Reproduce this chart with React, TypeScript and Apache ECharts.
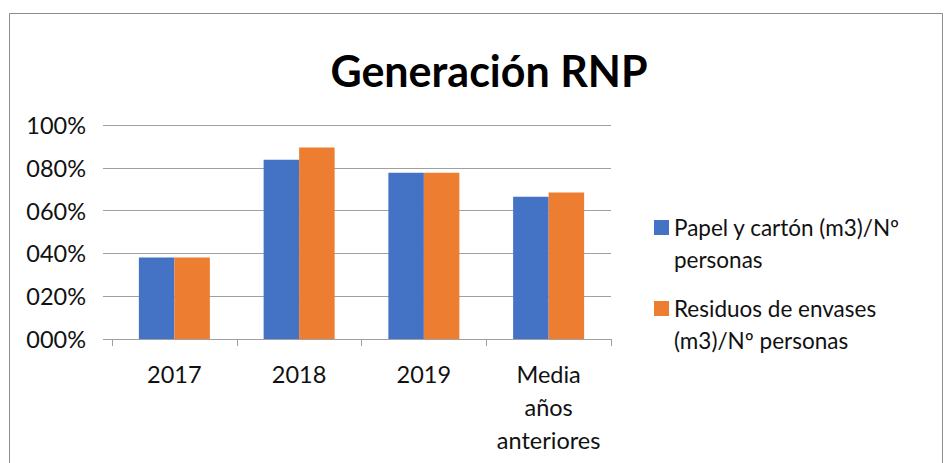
import React, { useEffect, useRef } from "react";
import * as echarts from "echarts";

const categories = ["2017", "2018", "2019", "Media\naños\nanteriores"];
const seriesNames = ["Papel y cartón (m3)/Nº personas", "Residuos de envases (m3)/Nº personas"];
const legendLabels = ["Papel y cartón (m3)/Nº\npersonas", "Residuos de envases\n(m3)/Nº personas"];
const papelValues = [38.1, 83.8, 77.7, 66.5];
const envasesValues = [38.1, 89.5, 77.7, 68.5];
const colors = ["#4472C4", "#ED7D31"];
const titleText = "Generación RNP";

const FONT = "Lato, 'Open Sans', sans-serif";

export default function App() {
  const ref = useRef<HTMLDivElement>(null);
  useEffect(() => {
    document.body.style.margin = "0";
    const chart = echarts.init(ref.current!, null, { renderer: "svg" });
    const labelMap: Record<string, string> = {};
    seriesNames.forEach((n, i) => (labelMap[n] = legendLabels[i]));
    chart.setOption({
      animation: false,
      backgroundColor: "#fff",
      color: colors,
      title: {
        text: titleText,
        left: 484,
        textAlign: "center",
        top: 44,
        textStyle: { fontFamily: FONT, fontWeight: "bold", fontSize: 43, color: "#000" },
      },
      graphic: [
        {
          type: "rect",
          shape: { x: 9.5, y: 13.5, width: 933, height: 470 },
          style: { fill: "none", stroke: "#8c8c8c", lineWidth: 1 },
          silent: true,
        },
      ],
      legend: seriesNames.map((n, i) => ({
        data: [n],
        orient: "vertical",
        left: 654,
        top: [179.5, 260.5][i],
        padding: 0,
        itemWidth: 15,
        itemHeight: 15,
        icon: "rect",
        itemGap: 6,
        formatter: (name: string) => " \n" + labelMap[name],
        textStyle: {
          fontFamily: FONT,
          fontSize: 22.5,
          color: "#111",
          lineHeight: 32,
        },
      })),
      grid: { left: 112, right: 333, top: 125, bottom: 124, containLabel: false },
      xAxis: {
        type: "category",
        data: categories,
        axisLine: { show: true, lineStyle: { color: "#a0a0a0", width: 1 } },
        axisTick: { show: true, length: 7, lineStyle: { color: "#a0a0a0" } },
        axisLabel: {
          fontFamily: FONT,
          fontSize: 23.5,
          color: "#111",
          lineHeight: 33,
          margin: 18,
          interval: 0,
        },
      },
      yAxis: {
        type: "value",
        min: 0,
        max: 100,
        interval: 20,
        axisLine: { show: false },
        axisTick: { show: true, length: 9, lineStyle: { color: "#a0a0a0" } },
        splitLine: { show: true, lineStyle: { color: "#a0a0a0", width: 1 } },
        axisLabel: {
          fontFamily: FONT,
          fontSize: 23.5,
          color: "#111",
          margin: 26,
          formatter: (v: number) => String(Math.round(v)).padStart(3, "0") + "%",
        },
      },
      series: [
        { name: seriesNames[0], type: "bar", data: papelValues, barWidth: 35.5, barGap: "0%" },
        { name: seriesNames[1], type: "bar", data: envasesValues, barWidth: 35.5, barGap: "0%" },
      ],
    });
    return () => chart.dispose();
  }, []);
  return <div ref={ref} style={{ width: 944, height: 463 }} />;
}
